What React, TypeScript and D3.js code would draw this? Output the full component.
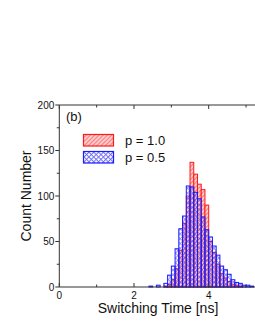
import React from "react";
import * as d3 from "d3";

const binStarts = [2.4, 2.5, 2.6, 2.7, 2.8, 2.9, 3.0, 3.1, 3.2, 3.3, 3.4, 3.5, 3.6, 3.7, 3.8, 3.9, 4.0, 4.1, 4.2, 4.3, 4.4, 4.5, 4.6, 4.7, 4.8, 4.9, 5.0, 5.1];
const countsP10 = [0, 0, 0, 0, 1, 3, 8, 20, 40, 70, 100, 137, 124, 113, 107, 90, 50, 38, 25, 15, 10, 6, 3, 2, 1, 0, 0, 0];
const countsP05 = [1, 0, 2, 0, 4, 13, 23, 42, 64, 78, 111, 110, 104, 97, 77, 63, 55, 45, 35, 23, 19, 14, 8, 5, 4, 2, 2, 1];
const binWidth = 0.1;
const xMajorTicks = [0, 2, 4];
const xMinorTicks = [1, 3, 5];
const yMajorTicks = [0, 50, 100, 150, 200];
const yMinorTicks = [25, 75, 125, 175];
const legendLabels = ["p = 1.0", "p = 0.5"];

export default function App() {
  const left = 59.3, top = 105, bottom = 287;
  const x = d3.scaleLinear().domain([0, 6]).range([left, left + 6 * 37.35]);
  const y = d3.scaleLinear().domain([0, 200]).range([bottom, top]);
  const axisColor = "#333";
  const font = "Liberation Sans, Arial, sans-serif";
  return (
    <svg width={255} height={330} style={{ position: "absolute", left: 0, top: 0 }} fontFamily={font}>
      <defs>
        <pattern id="redHatch" patternUnits="userSpaceOnUse" width={3} height={3} patternTransform="rotate(45)">
          <rect width={3} height={3} fill="#ffcaca" />
          <line x1={0} y1={0} x2={0} y2={3} stroke="#f04848" strokeWidth={1.2} />
        </pattern>
        <pattern id="blueCross" patternUnits="userSpaceOnUse" width={3.4} height={3.4} patternTransform="rotate(45)">
          <rect x={0} y={0} width={1} height={3.4} fill="#3030f0" opacity={0.55} />
          <rect x={1} y={0} width={2.4} height={1} fill="#3030f0" opacity={0.55} />
        </pattern>
        <pattern id="blueCrossLegend" patternUnits="userSpaceOnUse" width={3.4} height={3.4} patternTransform="rotate(45)">
          <rect width={3.4} height={3.4} fill="#ffffff" />
          <rect x={0} y={0} width={1} height={3.4} fill="#3030f0" opacity={0.7} />
          <rect x={1} y={0} width={2.4} height={1} fill="#3030f0" opacity={0.7} />
        </pattern>
      </defs>
      {/* red histogram */}
      {binStarts.map((b, i) =>
        countsP10[i] > 0 ? (
          <rect key={"r" + i} x={x(b)} y={y(countsP10[i])} width={x(b + binWidth) - x(b)} height={y(0) - y(countsP10[i])}
            fill="url(#redHatch)" stroke="#ff1a1a" strokeWidth={1} />
        ) : null
      )}
      {/* blue histogram */}
      {binStarts.map((b, i) =>
        countsP05[i] > 0 ? (
          <rect key={"b" + i} x={x(b)} y={y(countsP05[i])} width={x(b + binWidth) - x(b)} height={y(0) - y(countsP05[i])}
            fill="url(#blueCross)" stroke="#1a1aff" strokeWidth={1} />
        ) : null
      )}
      {/* axes */}
      <line x1={left} y1={top} x2={left} y2={bottom} stroke={axisColor} strokeWidth={1} />
      <line x1={left} y1={bottom} x2={260} y2={bottom} stroke={axisColor} strokeWidth={1.2} />
      <line x1={left} y1={top} x2={260} y2={top} stroke={axisColor} strokeWidth={1} />
      {yMajorTicks.map((t) => (
        <g key={"ym" + t}>
          <line x1={left - 4} x2={left} y1={y(t)} y2={y(t)} stroke={axisColor} />
          <text x={left - 5} y={y(t)} dy="0.35em" textAnchor="end" fontSize={10} fill="#111">{t}</text>
        </g>
      ))}
      {yMinorTicks.map((t) => (
        <line key={"yn" + t} x1={left - 2.5} x2={left} y1={y(t)} y2={y(t)} stroke={axisColor} />
      ))}
      {xMajorTicks.map((t) => (
        <g key={"xm" + t}>
          <line x1={x(t)} x2={x(t)} y1={bottom} y2={bottom - 4} stroke={axisColor} />
          <line x1={x(t)} x2={x(t)} y1={top} y2={top + 4} stroke={axisColor} />
          <text x={x(t)} y={bottom + 12} textAnchor="middle" fontSize={10} fill="#111">{t}</text>
        </g>
      ))}
      {xMinorTicks.map((t) => (
        <g key={"xn" + t}>
          <line x1={x(t)} x2={x(t)} y1={bottom} y2={bottom - 2.5} stroke={axisColor} />
          <line x1={x(t)} x2={x(t)} y1={top} y2={top + 2.5} stroke={axisColor} />
        </g>
      ))}
      {/* titles */}
      <text x={158} y={313} textAnchor="middle" fontSize={14} fill="#111">Switching Time [ns]</text>
      <text transform="translate(31,196) rotate(-90)" textAnchor="middle" fontSize={14} fill="#111">Count Number</text>
      <text x={66} y={121} fontSize={13} fill="#111">(b)</text>
      {/* legend */}
      <rect x={83.5} y={134.5} width={30} height={11.5} fill="url(#redHatch)" stroke="#ff1a1a" strokeWidth={1.2} />
      <text x={125} y={145} fontSize={13} fill="#111">{legendLabels[0]}</text>
      <rect x={83.5} y={151.5} width={30} height={11.5} fill="url(#blueCrossLegend)" stroke="#1a1aff" strokeWidth={1.2} />
      <text x={125} y={162} fontSize={13} fill="#111">{legendLabels[1]}</text>
    </svg>
  );
}
